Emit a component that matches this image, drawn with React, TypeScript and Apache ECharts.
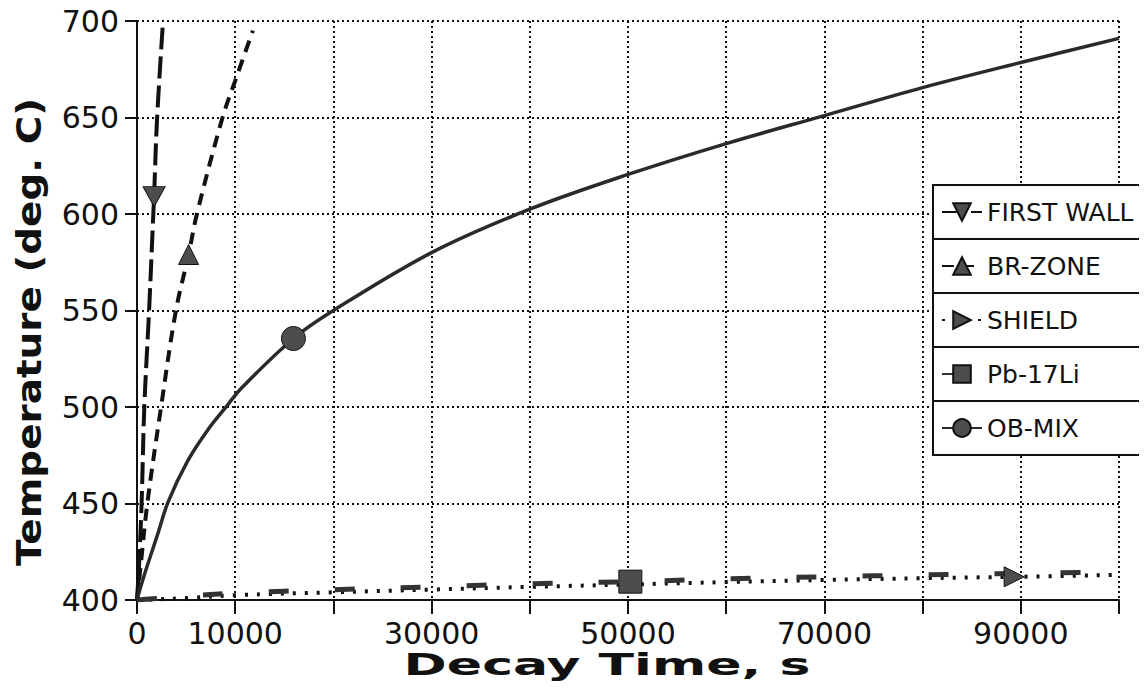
import React, { useEffect, useRef } from "react";
import * as echarts from "echarts";

// ---------- data ----------
const xShownLabels = [0, 10000, 30000, 50000, 70000, 90000];
const seriesNames = ["FIRST WALL", "BR-ZONE", "SHIELD", "Pb-17Li", "OB-MIX"];
const xTitle = "Decay Time, s";
const yTitle = "Temperature (deg. C)";

const firstWall: number[][] = [
  [0, 400], [230, 420], [480, 452], [745, 500], [1250, 552], [1660, 600], [2030, 648], [2650, 700],
];
const firstWallMarker = [1740, 609];

const brZone: number[][] = [
  [0, 400], [400, 419], [1050, 450], [2450, 500], [3965, 550], [6100, 600], [8710, 650], [10000, 669], [11800, 695],
];
const brZoneMarker = [5255, 579];

const shield: number[][] = [
  [0, 400], [2000, 400.3], [5000, 401], [10000, 402.5], [20000, 404], [30000, 405.4], [40000, 406.8],
  [50000, 408], [60000, 409.3], [70000, 410.4], [80000, 411.3], [100000, 413],
];
const shieldMarker = [89320, 412];

const pb17li: number[][] = [
  [0, 400], [2000, 400.8], [5000, 402], [10000, 403.6], [20000, 405.3], [30000, 406.8], [40000, 408.4],
  [60000, 411], [70000, 412], [80000, 413], [90000, 413.8], [100000, 414.5],
];
const pb17liMarker = [50240, 409.5];

const obMix: number[][] = [
  [0, 400], [100, 402], [745, 413], [2100, 434], [3180, 451], [5150, 472], [7190, 488], [9220, 501],
  [10575, 509.5], [20000, 550], [30000, 580], [40000, 602.5], [50000, 620.5], [60000, 636.5], [70000, 651],
  [80000, 665.5], [90000, 678.5], [100000, 691],
];
const obMixMarker = [15930, 535.5];

// ---------- helpers ----------
function withMarker(line: number[][], marker: number[]) {
  const pts = [...line, marker].sort((a, b) => a[0] - b[0]);
  return pts.map((p) => (p === marker ? { value: p } : { value: p, symbol: "none" }));
}

const FONT = "DejaVu Sans";
const INK = "#111";
const MARK = "#4d4d4d";

const LEG_LEFT = 933;
const LEG_TOP = 185;
const ROW_H = 54;

export default function App() {
  const ref = useRef<HTMLDivElement>(null);

  useEffect(() => {
    if (!ref.current) return;
    const chart = echarts.init(ref.current, undefined, { renderer: "svg" });

    const markerStyle = { color: MARK, borderColor: INK, borderWidth: 1 };
    const SMOOTH = 0.35;

    const option: any = {
      animation: false,
      backgroundColor: "#fff",
      textStyle: { fontFamily: FONT, color: INK },
      grid: { left: 137, right: 28, top: 21, bottom: 89, containLabel: false },
      xAxis: {
        type: "value",
        min: 0,
        max: 100000,
        interval: 10000,
        axisLine: { show: true, onZero: false, lineStyle: { color: INK, width: 2 } },
        axisTick: { show: true, inside: false, length: 14, lineStyle: { color: INK, width: 2 } },
        axisLabel: {
          margin: 18,
          fontFamily: FONT,
          fontSize: 30,
          color: INK,
          formatter: (v: number) => (xShownLabels.indexOf(v) >= 0 ? String(v) : ""),
        },
        splitLine: { show: true, lineStyle: { color: INK, width: 2, type: [2, 3] } },
      },
      yAxis: {
        type: "value",
        min: 400,
        max: 700,
        interval: 50,
        axisLine: { show: true, onZero: false, lineStyle: { color: INK, width: 2 } },
        axisTick: { show: true, inside: false, length: 12, lineStyle: { color: INK, width: 2 } },
        axisLabel: { margin: 18, fontFamily: FONT, fontSize: 30, color: INK },
        splitLine: { show: true, lineStyle: { color: INK, width: 2, type: [2, 3] } },
      },
      legend: {
        orient: "vertical",
        left: LEG_LEFT,
        top: LEG_TOP,
        data: seriesNames,
        backgroundColor: "#fff",
        borderColor: INK,
        borderWidth: 2,
        padding: [13, 12, 13, 8],
        itemGap: ROW_H - 28,
        itemWidth: 40,
        itemHeight: 22,
        textStyle: { fontFamily: FONT, fontSize: 25, color: INK, lineHeight: 28 },
      },
      graphic: [
        ...[1, 2, 3, 4].map((k) => ({
          type: "line",
          z: 100,
          shape: { x1: LEG_LEFT, y1: LEG_TOP + ROW_H * k, x2: 1147, y2: LEG_TOP + ROW_H * k },
          style: { stroke: INK, lineWidth: 2 },
        })),
        {
          type: "text",
          x: 607,
          y: 664,
          scaleX: 1.68,
          style: {
            text: xTitle,
            fontFamily: FONT,
            fontSize: 31,
            fontWeight: "bold",
            fill: INK,
            align: "center",
            verticalAlign: "middle",
          },
        },
        {
          type: "text",
          x: 30,
          y: 332,
          rotation: Math.PI / 2,
          scaleX: 1.18,
          style: {
            text: yTitle,
            fontFamily: FONT,
            fontSize: 33,
            fontWeight: "bold",
            fill: INK,
            align: "center",
            verticalAlign: "middle",
          },
        },
      ],
      series: [
        {
          name: "FIRST WALL",
          type: "line",
          data: withMarker(firstWall, firstWallMarker),
          symbol: "triangle",
          symbolRotate: 180,
          symbolSize: [22, 20],
          smooth: SMOOTH,
          lineStyle: { color: INK, width: 4, type: [22, 7] },
          itemStyle: markerStyle,
          z: 5,
        },
        {
          name: "BR-ZONE",
          type: "line",
          data: withMarker(brZone, brZoneMarker),
          symbol: "triangle",
          symbolSize: [20, 20],
          smooth: SMOOTH,
          lineStyle: { color: INK, width: 4, type: [12, 8] },
          itemStyle: markerStyle,
          z: 5,
        },
        {
          name: "SHIELD",
          type: "line",
          data: withMarker(shield, shieldMarker),
          symbol: "triangle",
          symbolRotate: -90,
          symbolSize: [20, 20],
          smooth: SMOOTH,
          lineStyle: { color: INK, width: 4, type: [3, 9] },
          itemStyle: markerStyle,
          z: 5,
        },
        {
          name: "Pb-17Li",
          type: "line",
          data: withMarker(pb17li, pb17liMarker),
          symbol: "rect",
          symbolSize: [23, 23],
          smooth: SMOOTH,
          lineStyle: { color: "#333", width: 5, type: [20, 46] },
          itemStyle: markerStyle,
          z: 5,
        },
        {
          name: "OB-MIX",
          type: "line",
          data: withMarker(obMix, obMixMarker),
          symbol: "circle",
          symbolSize: 24,
          smooth: SMOOTH,
          lineStyle: { color: "#2a2a2a", width: 3.5, type: "solid" },
          itemStyle: markerStyle,
          z: 5,
        },
      ],
    };

    chart.setOption(option);
    return () => chart.dispose();
  }, []);

  return <div ref={ref} style={{ width: 1147, height: 689, margin: -8 }} />;
}
